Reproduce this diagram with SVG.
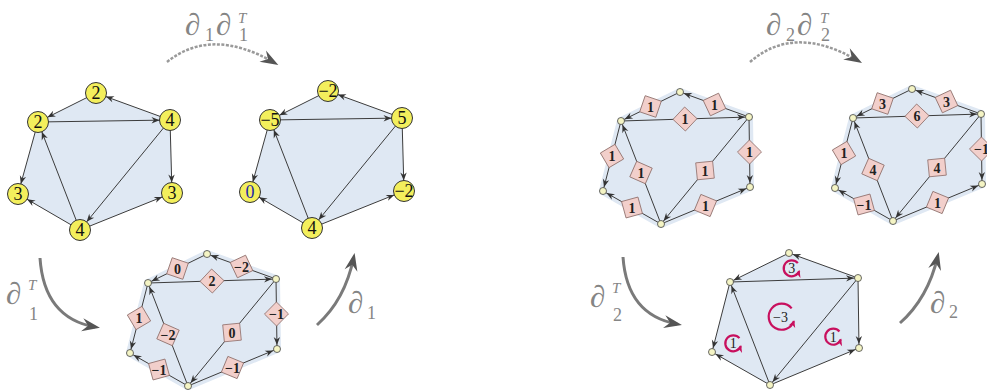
<svg xmlns="http://www.w3.org/2000/svg" width="987" height="392" viewBox="0 0 987 392">
<style>
.hull{fill:#dfe8f3}
.hull2{fill:#dfe8f3;stroke:#dfe8f3;stroke-width:8;stroke-linejoin:round}
.e{stroke:#3c3c3c;stroke-width:1;fill:none;marker-end:url(#ah)}
.es{stroke:#3c3c3c;stroke-width:1;fill:none;marker-end:url(#ahs)}
.bn{fill:#f3ef5c;stroke:#333;stroke-width:1}
.nt{font-family:"Liberation Serif","DejaVu Serif",serif;font-size:18px;text-anchor:middle;fill:#111}
.sn{fill:#f4f4c4;stroke:#444;stroke-width:0.8}
.lb rect{fill:#f2cfcb;stroke:#8f6f6b;stroke-width:0.8}
.lt{font-family:"Liberation Serif","DejaVu Serif",serif;font-weight:bold;font-size:14px;text-anchor:middle;fill:#222}
.op{stroke:#7a7a7a;stroke-width:3;fill:none;marker-end:url(#big)}
.opd{stroke:#9a9a9a;stroke-width:2.5;fill:none;stroke-dasharray:3 1.5;marker-end:url(#big)}
.ot{font-family:"Liberation Serif","DejaVu Serif",serif;fill:#858585}
.cc{stroke:#c8105e;stroke-width:2.2;fill:none;marker-end:url(#cm)}
.ct{font-family:"Liberation Serif","DejaVu Serif",serif;font-size:14px;text-anchor:middle;fill:#222}
</style>
<defs>
<marker id="ah" markerUnits="userSpaceOnUse" orient="auto" refX="10.5" refY="0" markerWidth="10" markerHeight="10" overflow="visible"><path d="M0,0 L-8,-3.2 L-5.5,0 L-8,3.2 Z" fill="#333"/></marker>
<marker id="ahs" markerUnits="userSpaceOnUse" orient="auto" refX="4" refY="0" markerWidth="10" markerHeight="10" overflow="visible"><path d="M0,0 L-8,-3.2 L-5.5,0 L-8,3.2 Z" fill="#333"/></marker>
<marker id="big" markerUnits="userSpaceOnUse" orient="auto" refX="-5" refY="0" markerWidth="20" markerHeight="20" overflow="visible"><path d="M0,0 L-18,-6.5 L-12,0 L-18,6.5 Z" fill="#555"/></marker>
<marker id="cm" markerUnits="userSpaceOnUse" orient="auto" refX="-1" refY="0" markerWidth="10" markerHeight="10" overflow="visible"><path d="M0,0 L-7,-3.5 L-5,0 L-7,3.5 Z" fill="#c8105e"/></marker>
</defs>

<g id="fills">
<polygon class="hull" points="96,93 170,120 172,193 80,230 18,194 38,122"/>
<polygon class="hull" transform="translate(232,-2)" points="96,93 170,120 172,193 80,230 18,194 38,122"/>
<polygon class="hull2" points="207,254 276,279 277,349 188,386 130,353 148,283"/>
<polygon class="hull2" transform="translate(473,-162)" points="207,254 276,279 277,349 188,386 130,353 148,283"/>
<polygon class="hull2" transform="translate(705,-165)" points="207,254 276,279 277,349 188,386 130,353 148,283"/>
<polygon class="hull" transform="translate(582,-1)" points="207,254 276,279 277,349 188,386 130,353 148,283"/>
</g>

<g id="connectors">
<g id="edges-1">
<path class="e" d="M170,120 L96,93"/><path class="e" d="M96,93 L38,122"/><path class="e" d="M38,122 L170,120"/>
<path class="e" d="M38,122 L18,194"/><path class="e" d="M170,120 L172,193"/><path class="e" d="M170,120 L80,230"/>
<path class="e" d="M80,230 L38,122"/><path class="e" d="M80,230 L18,194"/><path class="e" d="M80,230 L172,193"/>
</g>
<g id="edges-2" transform="translate(232,-2)">
<path class="e" d="M170,120 L96,93"/><path class="e" d="M96,93 L38,122"/><path class="e" d="M38,122 L170,120"/>
<path class="e" d="M38,122 L18,194"/><path class="e" d="M170,120 L172,193"/><path class="e" d="M170,120 L80,230"/>
<path class="e" d="M80,230 L38,122"/><path class="e" d="M80,230 L18,194"/><path class="e" d="M80,230 L172,193"/>
</g>
<g id="edges-3">
<path class="es" d="M276,279 L207,254"/><path class="es" d="M207,254 L148,283"/><path class="es" d="M148,283 L276,279"/>
<path class="es" d="M148,283 L130,353"/><path class="es" d="M276,279 L277,349"/><path class="es" d="M276,279 L188,386"/>
<path class="es" d="M188,386 L148,283"/><path class="es" d="M188,386 L130,353"/><path class="es" d="M188,386 L277,349"/>
</g>
<g id="edges-4" transform="translate(473,-162)">
<path class="es" d="M276,279 L207,254"/><path class="es" d="M207,254 L148,283"/><path class="es" d="M148,283 L276,279"/>
<path class="es" d="M148,283 L130,353"/><path class="es" d="M276,279 L277,349"/><path class="es" d="M276,279 L188,386"/>
<path class="es" d="M188,386 L148,283"/><path class="es" d="M188,386 L130,353"/><path class="es" d="M188,386 L277,349"/>
</g>
<g id="edges-5" transform="translate(705,-165)">
<path class="es" d="M276,279 L207,254"/><path class="es" d="M207,254 L148,283"/><path class="es" d="M148,283 L276,279"/>
<path class="es" d="M148,283 L130,353"/><path class="es" d="M276,279 L277,349"/><path class="es" d="M276,279 L188,386"/>
<path class="es" d="M188,386 L148,283"/><path class="es" d="M188,386 L130,353"/><path class="es" d="M188,386 L277,349"/>
</g>
<g id="edges-6" transform="translate(582,-1)">
<path class="es" d="M276,279 L207,254"/><path class="es" d="M207,254 L148,283"/><path class="es" d="M148,283 L276,279"/>
<path class="es" d="M148,283 L130,353"/><path class="es" d="M276,279 L277,349"/><path class="es" d="M276,279 L188,386"/>
<path class="es" d="M188,386 L148,283"/><path class="es" d="M188,386 L130,353"/><path class="es" d="M188,386 L277,349"/>
</g>
<path class="opd" d="M167,62 Q211.5,26.5 274,62.5"/>
<path class="opd" d="M750,62 Q794,23.5 857.7,60.5"/>
<path class="op" d="M40,258 Q44,318 95,327"/>
<path class="op" d="M623,257 Q627,315 677,324"/>
<path class="op" d="M317,325 Q345,300 353.6,257.8"/>
<path class="op" d="M900,323 Q928,298 937.6,256.8"/>
</g>

<g id="labels-3" class="lb">
<g transform="translate(241.5,266.5)"><rect x="-8.5" y="-8.5" width="17" height="17" transform="rotate(-25.1)"/><text class="lt" y="5">−2</text></g>
<g transform="translate(177.5,268.5)"><rect x="-8.5" y="-8.5" width="17" height="17" transform="rotate(18.8)"/><text class="lt" y="5">0</text></g>
<g transform="translate(212,281)"><rect x="-8.5" y="-8.5" width="17" height="17" transform="rotate(43.2)"/><text class="lt" y="5">2</text></g>
<g transform="translate(139,318)"><rect x="-8.5" y="-8.5" width="17" height="17" transform="rotate(-30.6)"/><text class="lt" y="5">1</text></g>
<g transform="translate(276.5,314)"><rect x="-8.5" y="-8.5" width="17" height="17" transform="rotate(44.6)"/><text class="lt" y="5">−1</text></g>
<g transform="translate(232,332.5)"><rect x="-8.5" y="-8.5" width="17" height="17" transform="rotate(-5.6)"/><text class="lt" y="5">0</text></g>
<g transform="translate(168,334.5)"><rect x="-8.5" y="-8.5" width="17" height="17" transform="rotate(23.8)"/><text class="lt" y="5">−2</text></g>
<g transform="translate(159,369.5)"><rect x="-8.5" y="-8.5" width="17" height="17" transform="rotate(-15.4)"/><text class="lt" y="5">−1</text></g>
<g transform="translate(232.5,367.5)"><rect x="-8.5" y="-8.5" width="17" height="17" transform="rotate(22.4)"/><text class="lt" y="5">−1</text></g>
</g>
<g id="labels-4" class="lb" transform="translate(473,-162)">
<g transform="translate(241.5,266.5)"><rect x="-8.5" y="-8.5" width="17" height="17" transform="rotate(-25.1)"/><text class="lt" y="5">1</text></g>
<g transform="translate(177.5,268.5)"><rect x="-8.5" y="-8.5" width="17" height="17" transform="rotate(18.8)"/><text class="lt" y="5">1</text></g>
<g transform="translate(212,281)"><rect x="-8.5" y="-8.5" width="17" height="17" transform="rotate(43.2)"/><text class="lt" y="5">1</text></g>
<g transform="translate(139,318)"><rect x="-8.5" y="-8.5" width="17" height="17" transform="rotate(-30.6)"/><text class="lt" y="5">1</text></g>
<g transform="translate(276.5,314)"><rect x="-8.5" y="-8.5" width="17" height="17" transform="rotate(44.6)"/><text class="lt" y="5">1</text></g>
<g transform="translate(232,332.5)"><rect x="-8.5" y="-8.5" width="17" height="17" transform="rotate(-5.6)"/><text class="lt" y="5">1</text></g>
<g transform="translate(168,334.5)"><rect x="-8.5" y="-8.5" width="17" height="17" transform="rotate(23.8)"/><text class="lt" y="5">1</text></g>
<g transform="translate(159,369.5)"><rect x="-8.5" y="-8.5" width="17" height="17" transform="rotate(-15.4)"/><text class="lt" y="5">1</text></g>
<g transform="translate(232.5,367.5)"><rect x="-8.5" y="-8.5" width="17" height="17" transform="rotate(22.4)"/><text class="lt" y="5">1</text></g>
</g>
<g id="labels-5" class="lb" transform="translate(705,-165)">
<g transform="translate(241.5,266.5)"><rect x="-8.5" y="-8.5" width="17" height="17" transform="rotate(-25.1)"/><text class="lt" y="5">3</text></g>
<g transform="translate(177.5,268.5)"><rect x="-8.5" y="-8.5" width="17" height="17" transform="rotate(18.8)"/><text class="lt" y="5">3</text></g>
<g transform="translate(212,281)"><rect x="-8.5" y="-8.5" width="17" height="17" transform="rotate(43.2)"/><text class="lt" y="5">6</text></g>
<g transform="translate(139,318)"><rect x="-8.5" y="-8.5" width="17" height="17" transform="rotate(-30.6)"/><text class="lt" y="5">1</text></g>
<g transform="translate(276.5,314)"><rect x="-8.5" y="-8.5" width="17" height="17" transform="rotate(44.6)"/><text class="lt" y="5">−1</text></g>
<g transform="translate(232,332.5)"><rect x="-8.5" y="-8.5" width="17" height="17" transform="rotate(-5.6)"/><text class="lt" y="5">4</text></g>
<g transform="translate(168,334.5)"><rect x="-8.5" y="-8.5" width="17" height="17" transform="rotate(23.8)"/><text class="lt" y="5">4</text></g>
<g transform="translate(159,369.5)"><rect x="-8.5" y="-8.5" width="17" height="17" transform="rotate(-15.4)"/><text class="lt" y="5">−1</text></g>
<g transform="translate(232.5,367.5)"><rect x="-8.5" y="-8.5" width="17" height="17" transform="rotate(22.4)"/><text class="lt" y="5">1</text></g>
</g>

<g id="circulations" transform="translate(582,-1)">
<path class="cc" d="M215.83,264.16 A8,8 0 1 0 217.22,272.04"/><text class="ct" x="209.7" y="274">3</text>
<path class="cc" d="M209.66,309.34 A13,13 0 1 0 211.92,322.15"/><text class="ct" x="198.5" y="322.5">−3</text>
<path class="cc" d="M157.43,339.16 A8,8 0 1 0 158.82,347.04"/><text class="ct" x="151.3" y="349">1</text>
<path class="cc" d="M257.43,332.56 A8,8 0 1 0 258.82,340.44"/><text class="ct" x="251.3" y="342.5">1</text>
</g>

<g id="g1">
<g id="g1-T"><circle class="bn" cx="96" cy="93" r="10.5"/><text class="nt" x="96" y="99">2</text></g>
<g id="g1-L"><circle class="bn" cx="38" cy="122" r="10.5"/><text class="nt" x="38" y="128">2</text></g>
<g id="g1-R"><circle class="bn" cx="170" cy="120" r="10.5"/><text class="nt" x="170" y="126">4</text></g>
<g id="g1-BL"><circle class="bn" cx="18" cy="194" r="10.5"/><text class="nt" x="18" y="200">3</text></g>
<g id="g1-BR"><circle class="bn" cx="172" cy="193" r="10.5"/><text class="nt" x="172" y="199">3</text></g>
<g id="g1-B"><circle class="bn" cx="80" cy="230" r="10.5"/><text class="nt" x="80" y="236">4</text></g>
</g>
<g id="g2" transform="translate(232,-2)">
<g id="g2-T"><circle class="bn" cx="96" cy="93" r="10.5"/><text class="nt" x="96" y="99">−2</text></g>
<g id="g2-L"><circle class="bn" cx="38" cy="122" r="10.5"/><text class="nt" x="38" y="128">−5</text></g>
<g id="g2-R"><circle class="bn" cx="170" cy="120" r="10.5"/><text class="nt" x="170" y="126">5</text></g>
<g id="g2-BL"><circle class="bn" cx="18" cy="194" r="10.5"/><text class="nt" x="18" y="200" style="fill:#1c2aa8">0</text></g>
<g id="g2-BR"><circle class="bn" cx="172" cy="193" r="10.5"/><text class="nt" x="172" y="199">−2</text></g>
<g id="g2-B"><circle class="bn" cx="80" cy="230" r="10.5"/><text class="nt" x="80" y="236">4</text></g>
</g>
<g id="g3">
<g id="g3-T"><circle class="sn" cx="207" cy="254" r="3.5"/></g>
<g id="g3-L"><circle class="sn" cx="148" cy="283" r="3.5"/></g>
<g id="g3-R"><circle class="sn" cx="276" cy="279" r="3.5"/></g>
<g id="g3-BL"><circle class="sn" cx="130" cy="353" r="3.5"/></g>
<g id="g3-BR"><circle class="sn" cx="277" cy="349" r="3.5"/></g>
<g id="g3-B"><circle class="sn" cx="188" cy="386" r="3.5"/></g>
</g>
<g id="g4" transform="translate(473,-162)">
<g id="g4-T"><circle class="sn" cx="207" cy="254" r="3.5"/></g>
<g id="g4-L"><circle class="sn" cx="148" cy="283" r="3.5"/></g>
<g id="g4-R"><circle class="sn" cx="276" cy="279" r="3.5"/></g>
<g id="g4-BL"><circle class="sn" cx="130" cy="353" r="3.5"/></g>
<g id="g4-BR"><circle class="sn" cx="277" cy="349" r="3.5"/></g>
<g id="g4-B"><circle class="sn" cx="188" cy="386" r="3.5"/></g>
</g>
<g id="g5" transform="translate(705,-165)">
<g id="g5-T"><circle class="sn" cx="207" cy="254" r="3.5"/></g>
<g id="g5-L"><circle class="sn" cx="148" cy="283" r="3.5"/></g>
<g id="g5-R"><circle class="sn" cx="276" cy="279" r="3.5"/></g>
<g id="g5-BL"><circle class="sn" cx="130" cy="353" r="3.5"/></g>
<g id="g5-BR"><circle class="sn" cx="277" cy="349" r="3.5"/></g>
<g id="g5-B"><circle class="sn" cx="188" cy="386" r="3.5"/></g>
</g>
<g id="g6" transform="translate(582,-1)">
<g id="g6-T"><circle class="sn" cx="207" cy="254" r="3.5"/></g>
<g id="g6-L"><circle class="sn" cx="148" cy="283" r="3.5"/></g>
<g id="g6-R"><circle class="sn" cx="276" cy="279" r="3.5"/></g>
<g id="g6-BL"><circle class="sn" cx="130" cy="353" r="3.5"/></g>
<g id="g6-BR"><circle class="sn" cx="277" cy="349" r="3.5"/></g>
<g id="g6-B"><circle class="sn" cx="188" cy="386" r="3.5"/></g>
</g>

<g id="op-labels" class="ot">
<text x="185" y="35" font-size="31">∂</text><text x="205" y="41" font-size="18">1</text>
<text x="216" y="35" font-size="31">∂</text><text x="238" y="23" font-size="15" font-style="italic">T</text><text x="239" y="41" font-size="18">1</text>

<text x="766" y="35" font-size="31">∂</text><text x="786" y="41" font-size="18">2</text>
<text x="797" y="35" font-size="31">∂</text><text x="820" y="23" font-size="15" font-style="italic">T</text><text x="821" y="41" font-size="18">2</text>

<text x="6" y="304" font-size="31">∂</text><text x="28" y="290" font-size="15" font-style="italic">T</text><text x="29" y="320" font-size="18">1</text>
<text x="590" y="307" font-size="31">∂</text><text x="612" y="293" font-size="15" font-style="italic">T</text><text x="613" y="321" font-size="18">2</text>
<text x="348" y="313" font-size="31">∂</text><text x="367" y="319" font-size="18">1</text>
<text x="930" y="313" font-size="31">∂</text><text x="949" y="318" font-size="18">2</text>
</g>
</svg>
